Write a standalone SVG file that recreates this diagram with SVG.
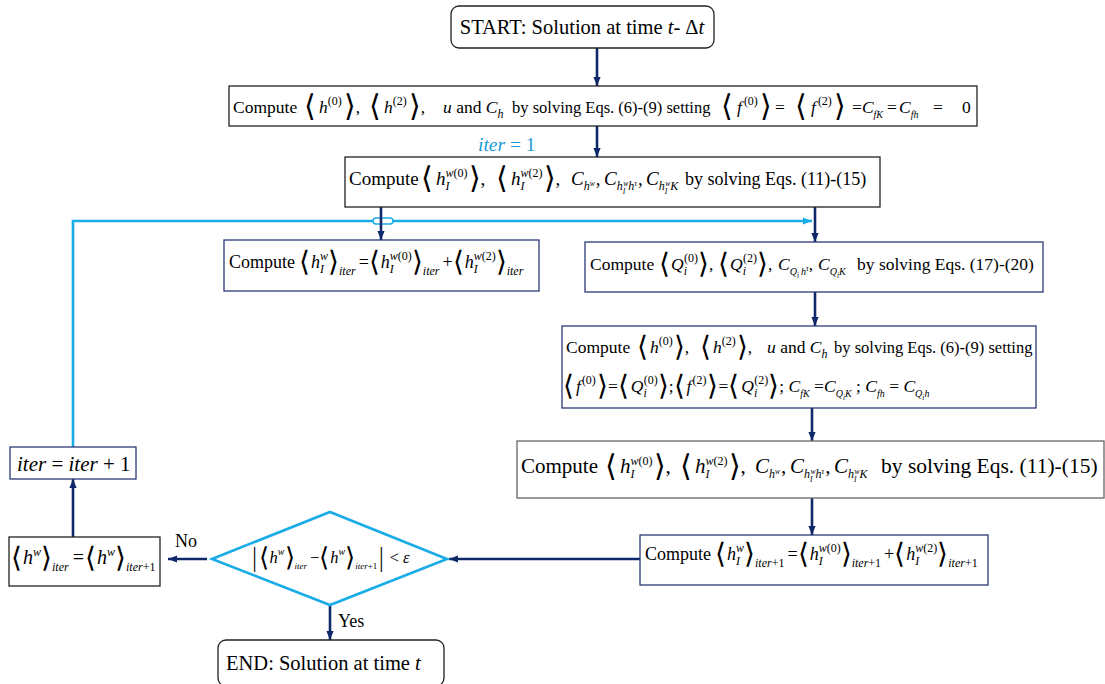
<svg xmlns="http://www.w3.org/2000/svg" width="1105" height="684" viewBox="0 0 1105 684">
<style>
.t{font-family:"Liberation Serif",serif;font-size:18px;fill:#000}
.L{font-size:20.5px}
.i{font-style:italic}
.s{font-size:12px}
.s10{font-size:10px}
.ss{font-size:7.5px}
.b{font-family:"DejaVu Sans",sans-serif;font-size:30px;font-weight:200;baseline-shift:-3px}
.bs{font-size:28px}
.sup{baseline-shift:8px}
.sub{baseline-shift:-5px}
.box{fill:#fff;stroke-width:1.3}
.k{stroke:#222}
.n{stroke:#2b3a78}
.g{stroke:#666}
.c{stroke:#0f2869;stroke-width:2.6;fill:none}
.bl{stroke:#19ace6;stroke-width:2.6;fill:none}
</style>
<defs>
<marker id="an" viewBox="0 0 10 10" refX="10" refY="5" markerWidth="9" markerHeight="9" markerUnits="userSpaceOnUse" orient="auto"><path d="M0,1 L10,5 L0,9 z" fill="#0f2869"/></marker>
<marker id="ab" viewBox="0 0 10 10" refX="10" refY="5" markerWidth="9" markerHeight="9" markerUnits="userSpaceOnUse" orient="auto"><path d="M0,1 L10,5 L0,9 z" fill="#19ace6"/></marker>
</defs>

<g id="connectors">
<polyline class="bl" points="73,447 73,221 812,221" marker-end="url(#ab)"/>
<rect x="373" y="218" width="20" height="6" rx="3" fill="#fff" stroke="#19ace6" stroke-width="1.5"/>
<line class="c" x1="597" y1="48" x2="597" y2="86" marker-end="url(#an)"/>
<line class="c" x1="597" y1="126" x2="597" y2="157" marker-end="url(#an)"/>
<line class="c" x1="381" y1="207" x2="381" y2="240" marker-end="url(#an)"/>
<line class="c" x1="815" y1="207" x2="815" y2="242" marker-end="url(#an)"/>
<line class="c" x1="815" y1="292" x2="815" y2="326" marker-end="url(#an)"/>
<line class="c" x1="812" y1="408" x2="812" y2="441" marker-end="url(#an)"/>
<line class="c" x1="812" y1="498" x2="812" y2="535" marker-end="url(#an)"/>
<line class="c" x1="640" y1="559" x2="449" y2="559" marker-end="url(#an)"/>
<line class="c" x1="207" y1="559" x2="168" y2="559" marker-end="url(#an)"/>
<line class="c" x1="73" y1="537" x2="73" y2="479" marker-end="url(#an)"/>
<line class="c" x1="330" y1="605" x2="330" y2="640" marker-end="url(#an)"/>
<text class="t i" x="478" y="151" style="fill:#1b9ad6;font-size:19.5px">iter<tspan font-style="normal"> = 1</tspan></text>
<text class="t" x="175" y="547">No</text>
<text class="t" x="338" y="627">Yes</text>
</g>

<g id="start">
<rect class="box k" x="451" y="6" width="263" height="42" rx="8"/>
<text class="t L" x="582" y="34" text-anchor="middle">START: Solution at time <tspan class="i">t</tspan>- Δ<tspan class="i">t</tspan></text>
</g>

<g id="step1">
<rect class="box k" x="229" y="86" width="748" height="40"/>
<text class="t" x="233" y="113" style="font-size:17.5px">Compute<tspan class="b" x="304">⟨</tspan><tspan class="i" dx="3">h</tspan><tspan class="s sup">(0)</tspan><tspan class="b" dx="2">⟩</tspan>,<tspan class="b" x="369">⟨</tspan><tspan class="i" dx="3">h</tspan><tspan class="s sup">(2)</tspan><tspan class="b" dx="2">⟩</tspan>,<tspan class="i" x="443">u</tspan> and <tspan class="i">C</tspan><tspan class="s i sub">h</tspan><tspan x="512" style="font-size:16.5px">by solving Eqs. (6)-(9) setting</tspan><tspan class="b" x="721">⟨</tspan><tspan class="i" dx="4">f</tspan><tspan class="s sup" dx="2">(0)</tspan><tspan class="b" dx="2">⟩</tspan><tspan dx="3">=</tspan><tspan class="b" x="795">⟨</tspan><tspan class="i" dx="4">f</tspan><tspan class="s sup" dx="2">(2)</tspan><tspan class="b" dx="2">⟩</tspan><tspan x="852">=</tspan><tspan class="i">C</tspan><tspan class="s10 i sub">fK</tspan><tspan x="887">=</tspan><tspan class="i" x="899">C</tspan><tspan class="s10 i sub">fh</tspan><tspan x="933">=</tspan><tspan x="962">0</tspan></text>
</g>

<g id="step2">
<rect class="box k" x="345" y="157" width="535" height="50"/>
<text class="t" x="349" y="185" style="font-size:19px">Compute<tspan class="b" x="421">⟨</tspan><tspan class="i" dx="3">h</tspan><tspan class="s i sub">I</tspan><tspan class="s sup" dx="-4"><tspan class="i">w</tspan>(0)</tspan><tspan class="b" dx="1">⟩</tspan>,<tspan class="b" x="496">⟨</tspan><tspan class="i" dx="3">h</tspan><tspan class="s i sub">I</tspan><tspan class="s sup" dx="-4"><tspan class="i">w</tspan>(2)</tspan><tspan class="b" dx="1">⟩</tspan>,<tspan class="i" x="571">C</tspan><tspan class="s i sub">h</tspan><tspan class="ss i" style="baseline-shift:-1px">w</tspan><tspan dx="1">,</tspan><tspan class="i" x="604">C</tspan><tspan class="s i sub">h</tspan><tspan class="ss i" style="baseline-shift:-9px">I</tspan><tspan class="ss i" dx="-2" style="baseline-shift:-1px">w</tspan><tspan class="s i sub">h</tspan><tspan class="ss i" style="baseline-shift:-1px">τ</tspan><tspan dx="1">,</tspan><tspan class="i" x="646">C</tspan><tspan class="s i sub">h</tspan><tspan class="ss i" style="baseline-shift:-9px">I</tspan><tspan class="ss i" dx="-2" style="baseline-shift:-1px">w</tspan><tspan class="s i sub">K</tspan><tspan x="685" style="font-size:18px">by solving Eqs. (11)-(15)</tspan></text>
</g>

<g id="hIw-iter">
<rect class="box n" x="224" y="240" width="315" height="51"/>
<text class="t" x="229" y="268">Compute<tspan class="b bs" dx="4">⟨</tspan><tspan class="i" dx="1">h</tspan><tspan class="s i sub">I</tspan><tspan class="s i sup" dx="-4">w</tspan><tspan class="b bs">⟩</tspan><tspan class="s i" style="baseline-shift:-7px">iter</tspan><tspan dx="3">=</tspan><tspan class="b bs">⟨</tspan><tspan class="i" dx="1">h</tspan><tspan class="s i sub">I</tspan><tspan class="s sup" dx="-4"><tspan class="i">w</tspan>(0)</tspan><tspan class="b bs">⟩</tspan><tspan class="s i" style="baseline-shift:-7px">iter</tspan><tspan dx="3">+</tspan><tspan class="b bs">⟨</tspan><tspan class="i" dx="1">h</tspan><tspan class="s i sub">I</tspan><tspan class="s sup" dx="-4"><tspan class="i">w</tspan>(2)</tspan><tspan class="b bs">⟩</tspan><tspan class="s i" style="baseline-shift:-7px">iter</tspan></text>
</g>

<g id="step-Q">
<rect class="box n" x="585" y="242" width="458" height="50"/>
<text class="t" x="590" y="270" style="font-size:17.5px">Compute<tspan class="b bs" x="659">⟨</tspan><tspan class="i" dx="1">Q</tspan><tspan class="s i sub">i</tspan><tspan class="s sup" dx="-3">(0)</tspan><tspan class="b bs">⟩</tspan>,<tspan class="b bs" x="718">⟨</tspan><tspan class="i" dx="1">Q</tspan><tspan class="s i sub">i</tspan><tspan class="s sup" dx="-3">(2)</tspan><tspan class="b bs">⟩</tspan>,<tspan class="i" x="778">C</tspan><tspan class="s10 i sub">Q</tspan><tspan class="ss i" style="baseline-shift:-8px">i</tspan><tspan class="s10 i sub" dx="2">h</tspan><tspan class="ss i" style="baseline-shift:-1px">τ</tspan>,<tspan class="i" x="818">C</tspan><tspan class="s10 i sub">Q</tspan><tspan class="ss i" style="baseline-shift:-8px">i</tspan><tspan class="s10 i sub">K</tspan><tspan x="857">by solving Eqs. (17)-(20)</tspan></text>
</g>

<g id="step3">
<rect class="box n" x="562" y="326" width="474" height="82"/>
<text class="t" x="566" y="353" style="font-size:17.5px">Compute<tspan class="b bs" x="637">⟨</tspan><tspan class="i" dx="2">h</tspan><tspan class="s sup">(0)</tspan><tspan class="b bs" dx="1">⟩</tspan>,<tspan class="b bs" x="700">⟨</tspan><tspan class="i" dx="2">h</tspan><tspan class="s sup">(2)</tspan><tspan class="b bs" dx="1">⟩</tspan>,<tspan class="i" x="767">u</tspan> and <tspan class="i">C</tspan><tspan class="s i sub">h</tspan><tspan x="834" style="font-size:16.5px">by solving Eqs. (6)-(9) setting</tspan></text>
<text class="t" x="563" y="392" style="font-size:17.5px"><tspan class="b bs">⟨</tspan><tspan class="i" dx="2">f</tspan><tspan class="s sup" dx="1">(0)</tspan><tspan class="b bs" dx="1">⟩</tspan>=<tspan class="b bs">⟨</tspan><tspan class="i" dx="2">Q</tspan><tspan class="s i sub">i</tspan><tspan class="s sup" dx="-3">(0)</tspan><tspan class="b bs">⟩</tspan>;<tspan class="b bs">⟨</tspan><tspan class="i" dx="2">f</tspan><tspan class="s sup" dx="1">(2)</tspan><tspan class="b bs" dx="1">⟩</tspan>=<tspan class="b bs">⟨</tspan><tspan class="i" dx="2">Q</tspan><tspan class="s i sub">i</tspan><tspan class="s sup" dx="-3">(2)</tspan><tspan class="b bs">⟩</tspan>; <tspan class="i">C</tspan><tspan class="s10 i sub">fK</tspan> =<tspan class="i">C</tspan><tspan class="s10 i sub">Q</tspan><tspan class="ss i" style="baseline-shift:-8px">i</tspan><tspan class="s10 i sub">K</tspan> ; <tspan class="i">C</tspan><tspan class="s10 i sub">fh</tspan> = <tspan class="i">C</tspan><tspan class="s10 i sub">Q</tspan><tspan class="ss i" style="baseline-shift:-8px">i</tspan><tspan class="s10 i sub">h</tspan></text>
</g>

<g id="step4">
<rect class="box g" x="517" y="441" width="587" height="57"/>
<text class="t" x="521" y="473" style="font-size:21px">Compute<tspan class="b" x="605">⟨</tspan><tspan class="i" dx="3">h</tspan><tspan class="s i sub">I</tspan><tspan class="s sup" dx="-4"><tspan class="i">w</tspan>(0)</tspan><tspan class="b" dx="1">⟩</tspan>,<tspan class="b" x="680">⟨</tspan><tspan class="i" dx="3">h</tspan><tspan class="s i sub">I</tspan><tspan class="s sup" dx="-4"><tspan class="i">w</tspan>(2)</tspan><tspan class="b" dx="1">⟩</tspan>,<tspan class="i" x="755">C</tspan><tspan class="s i sub">h</tspan><tspan class="ss i" style="baseline-shift:-1px">w</tspan><tspan dx="1">,</tspan><tspan class="i" x="790">C</tspan><tspan class="s i sub">h</tspan><tspan class="ss i" style="baseline-shift:-9px">I</tspan><tspan class="ss i" dx="-2" style="baseline-shift:-1px">w</tspan><tspan class="s i sub">h</tspan><tspan class="ss i" style="baseline-shift:-1px">τ</tspan><tspan dx="1">,</tspan><tspan class="i" x="834">C</tspan><tspan class="s i sub">h</tspan><tspan class="ss i" style="baseline-shift:-9px">I</tspan><tspan class="ss i" dx="-2" style="baseline-shift:-1px">w</tspan><tspan class="s i sub">K</tspan><tspan x="881" style="font-size:21.5px">by solving Eqs. (11)-(15)</tspan></text>
</g>

<g id="hIw-iter1">
<rect class="box n" x="640" y="535" width="348" height="50"/>
<text class="t" x="645" y="560">Compute<tspan class="b bs" dx="4">⟨</tspan><tspan class="i" dx="1">h</tspan><tspan class="s i sub">I</tspan><tspan class="s i sup" dx="-4">w</tspan><tspan class="b bs">⟩</tspan><tspan class="s i" style="baseline-shift:-7px">iter</tspan><tspan class="s" style="baseline-shift:-7px">+1</tspan><tspan dx="3">=</tspan><tspan class="b bs">⟨</tspan><tspan class="i" dx="1">h</tspan><tspan class="s i sub">I</tspan><tspan class="s sup" dx="-4"><tspan class="i">w</tspan>(0)</tspan><tspan class="b bs">⟩</tspan><tspan class="s i" style="baseline-shift:-7px">iter</tspan><tspan class="s" style="baseline-shift:-7px">+1</tspan><tspan dx="3">+</tspan><tspan class="b bs">⟨</tspan><tspan class="i" dx="1">h</tspan><tspan class="s i sub">I</tspan><tspan class="s sup" dx="-4"><tspan class="i">w</tspan>(2)</tspan><tspan class="b bs">⟩</tspan><tspan class="s i" style="baseline-shift:-7px">iter</tspan><tspan class="s" style="baseline-shift:-7px">+1</tspan></text>
</g>

<g id="decision">
<polygon points="212,559 330,512 447,559 330,605" fill="#fff" stroke="#19ace6" stroke-width="2.6"/>
<text class="t" x="330" y="563" text-anchor="middle" style="font-size:16.5px"><tspan class="b" style="font-size:24px">|</tspan><tspan class="b" style="font-size:26px">⟨</tspan><tspan class="i" dx="1">h</tspan><tspan class="s i sup" style="font-size:10px">w</tspan><tspan class="b" style="font-size:26px">⟩</tspan><tspan class="s i" style="baseline-shift:-6px;font-size:9px">iter</tspan><tspan dx="3">−</tspan><tspan class="b" style="font-size:26px">⟨</tspan><tspan class="i" dx="1">h</tspan><tspan class="s i sup" style="font-size:10px">w</tspan><tspan class="b" style="font-size:26px">⟩</tspan><tspan class="s i" style="baseline-shift:-6px;font-size:9px">iter</tspan><tspan class="s" style="baseline-shift:-6px;font-size:9px">+1</tspan><tspan class="b" style="font-size:24px">|</tspan> &lt; <tspan class="i">ε</tspan></text>
</g>

<g id="update-hw">
<rect class="box k" x="9" y="537" width="151" height="49"/>
<text class="t" x="11" y="564" style="font-size:20px"><tspan class="b bs">⟨</tspan><tspan class="i" dx="1">h</tspan><tspan class="s i sup">w</tspan><tspan class="b bs">⟩</tspan><tspan class="s i" style="baseline-shift:-7px">iter</tspan><tspan dx="4">=</tspan><tspan class="b bs" dx="1">⟨</tspan><tspan class="i" dx="1">h</tspan><tspan class="s i sup">w</tspan><tspan class="b bs">⟩</tspan><tspan class="s i" style="baseline-shift:-7px">iter</tspan><tspan class="s" style="baseline-shift:-7px">+1</tspan></text>
</g>

<g id="iter-inc">
<rect class="box n" x="10" y="447" width="126" height="32"/>
<text class="t i" x="17" y="471" style="font-size:21px">iter<tspan font-style="normal"> = </tspan>iter<tspan font-style="normal"> + 1</tspan></text>
</g>

<g id="end">
<rect class="box k" x="218" y="640" width="226" height="46" rx="8"/>
<text class="t L" x="226" y="670">END: Solution at time <tspan class="i">t</tspan></text>
</g>
</svg>
